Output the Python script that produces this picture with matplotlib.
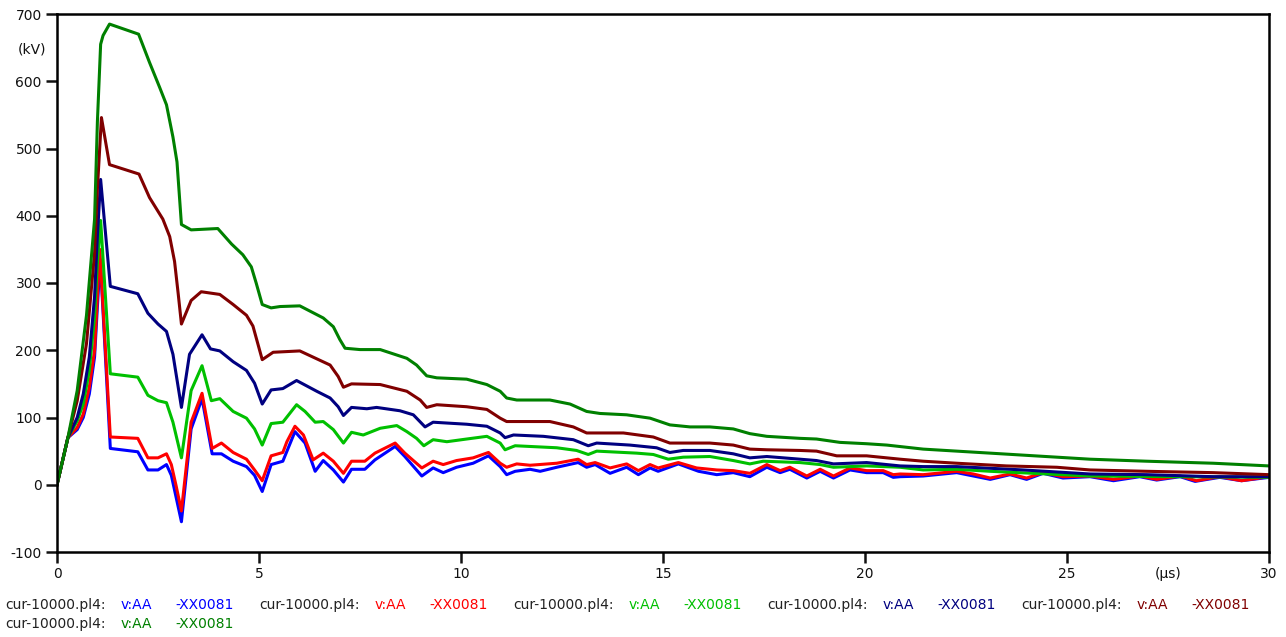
import matplotlib
matplotlib.use("Agg")
import matplotlib.pyplot as plt

plt.rcParams['font.family'] = ['DejaVu Sans']

# ---- series data: time (us) and voltage (kV) ----
blue_t = [0, 0.27, 0.5, 0.65, 0.8, 0.93, 1.0, 1.07, 1.32, 2.0, 2.25, 2.5, 2.71, 2.83, 3.08, 3.32, 3.59, 3.84,
          4.07, 4.36, 4.69, 4.89, 5.08, 5.3, 5.59, 5.89, 6.14, 6.39, 6.59, 6.84, 7.09, 7.29, 7.62, 7.87, 8.37,
          8.61, 9.03, 9.31, 9.56, 9.89, 10.3, 10.68, 10.97, 11.13, 11.34, 11.71, 11.96, 12.37, 12.9, 13.11,
          13.32, 13.69, 14.1, 14.39, 14.68, 14.88, 15.38, 15.88, 16.33, 16.74, 17.15, 17.57, 17.9, 18.14,
          18.56, 18.89, 19.22, 19.63, 20.04, 20.45, 20.7, 20.87, 21.44, 22.27, 23.1, 23.59, 24.0, 24.41, 24.9,
          25.57, 26.15, 26.8, 27.22, 27.8, 28.17, 28.78, 29.32, 30]
blue_v = [0, 70, 82, 100, 135, 190, 265, 335, 54, 49, 22, 22, 30, 14, -55, 83, 128, 46,
          46, 35, 27, 14, -10, 30, 35, 79, 62, 20, 36, 22, 4, 23, 23, 37, 57,
          42, 13, 25, 18, 26, 32, 43, 27, 15, 20, 23, 20, 26, 33, 26,
          30, 17, 26, 15, 25, 20, 31, 20, 15, 18, 12, 26, 18, 23,
          10, 20, 10, 22, 18, 18, 11, 12, 13, 18, 8, 15, 8, 17, 10,
          12, 6, 12, 7, 12, 5, 11, 6, 11]

red_t = [0, 0.27, 0.5, 0.65, 0.8, 0.93, 1.0, 1.06, 1.32, 2.0, 2.25, 2.5, 2.71, 2.83, 2.95, 3.08, 3.32, 3.59,
         3.84, 4.07, 4.36, 4.69, 4.89, 5.08, 5.3, 5.59, 5.69, 5.89, 6.1, 6.34, 6.59, 6.84, 7.09, 7.29, 7.62,
         7.87, 8.37, 8.61, 9.03, 9.31, 9.56, 9.89, 10.3, 10.68, 10.97, 11.13, 11.38, 11.71, 12.37, 12.9,
         13.11, 13.32, 13.69, 14.1, 14.39, 14.68, 14.88, 15.38, 15.83, 16.33, 16.74, 17.15, 17.57, 17.9,
         18.14, 18.56, 18.89, 19.22, 19.63, 20.04, 20.45, 20.7, 20.87, 21.44, 22.27, 22.68, 23.1, 23.59,
         24.0, 24.41, 24.9, 25.57, 26.15, 26.8, 27.22, 27.8, 28.2, 28.78, 29.32, 30]
red_v = [0, 70, 85, 105, 145, 200, 280, 350, 71, 69, 40, 40, 46, 30, -2, -39, 93, 136,
         54, 62, 48, 38, 22, 6, 43, 48, 64, 87, 74, 37, 47, 35, 17, 35, 35,
         47, 62, 47, 25, 35, 30, 36, 40, 48, 32, 26, 31, 29, 32, 38,
         30, 33, 25, 31, 21, 30, 25, 33, 25, 22, 21, 17, 30, 21,
         26, 13, 23, 13, 25, 21, 21, 15, 16, 15, 20, 16, 10, 16,
         10, 18, 12, 13, 8, 13, 8, 13, 6, 12, 6, 12]

lgreen_t = [0, 0.27, 0.5, 0.65, 0.8, 0.93, 1.0, 1.08, 1.32, 2.0, 2.25, 2.5, 2.71, 2.87, 3.08, 3.32, 3.59, 3.82,
            4.03, 4.36, 4.69, 4.89, 5.08, 5.3, 5.59, 5.93, 6.14, 6.39, 6.59, 6.84, 7.09, 7.29, 7.58, 8.0,
            8.41, 8.66, 8.9, 9.08, 9.31, 9.65, 10.14, 10.64, 10.97, 11.09, 11.34, 12.37, 12.86, 13.15, 13.36,
            14.35, 14.76, 15.13, 15.5, 16.16, 16.74, 17.15, 17.48, 18.39, 18.89, 19.22, 20.04, 20.87, 21.44,
            22.27, 23.1, 25.57, 30]
lgreen_v = [0, 70, 95, 120, 170, 250, 330, 393, 165, 160, 133, 125, 122, 93, 40, 140, 177, 125,
            128, 109, 99, 83, 59, 91, 93, 119, 109, 93, 94, 82, 62, 78, 74, 84,
            88, 79, 69, 58, 67, 64, 68, 72, 62, 52, 58, 55, 51, 45, 50,
            47, 45, 38, 41, 42, 36, 31, 35, 33, 30, 26, 28, 26, 22,
            23, 20, 13, 11]

navy_t = [0, 0.27, 0.5, 0.65, 0.8, 0.93, 1.0, 1.08, 1.32, 2.0, 2.25, 2.5, 2.71, 2.87, 3.08, 3.28, 3.59, 3.8,
          4.03, 4.36, 4.69, 4.89, 5.08, 5.3, 5.59, 5.93, 6.43, 6.76, 6.96, 7.09, 7.29, 7.67, 7.91, 8.49,
          8.82, 9.11, 9.31, 10.14, 10.64, 10.97, 11.09, 11.3, 12.04, 12.78, 13.15, 13.36, 14.18, 14.84,
          15.17, 15.5, 16.16, 16.74, 17.15, 17.57, 18.39, 18.8, 19.22, 20.04, 20.87, 21.44, 22.27, 23.92,
          25.57, 26.97, 28.62, 30]
navy_v = [0, 70, 100, 135, 190, 280, 370, 454, 295, 284, 255, 239, 228, 194, 115, 194, 223, 202,
          199, 183, 170, 151, 120, 141, 143, 155, 139, 129, 116, 103, 115, 113, 115, 110,
          104, 86, 93, 90, 87, 77, 70, 74, 72, 67, 58, 62, 59, 55,
          48, 51, 51, 46, 40, 42, 38, 36, 31, 33, 28, 27, 27, 22,
          16, 15, 12, 12]

maroon_t = [0, 0.27, 0.5, 0.73, 0.93, 1.0, 1.10, 1.30, 2.03, 2.29, 2.62, 2.79, 2.91, 3.0, 3.08, 3.32, 3.57,
            4.03, 4.36, 4.69, 4.85, 5.08, 5.35, 6.01, 6.76, 6.96, 7.09, 7.29, 8.0, 8.66, 8.99, 9.15, 9.4,
            10.14, 10.64, 10.97, 11.13, 12.2, 12.78, 13.11, 14.02, 14.76, 15.17, 16.16, 16.74, 17.15, 17.57,
            18.39, 18.8, 19.3, 20.04, 20.87, 21.44, 22.27, 23.5, 24.75, 25.57, 26.97, 28.62, 30]
maroon_v = [0, 70, 125, 210, 345, 440, 546, 476, 462, 427, 395, 369, 332, 284, 239, 274, 287,
            283, 268, 252, 236, 186, 197, 199, 178, 161, 145, 150, 149, 139, 126, 115, 119,
            116, 112, 99, 94, 94, 86, 77, 77, 71, 62, 62, 59, 53, 52,
            51, 50, 43, 43, 38, 35, 32, 28, 26, 22, 20, 18, 15]

dgreen_t = [0, 0.27, 0.5, 0.73, 0.93, 1.0, 1.08, 1.14, 1.30, 2.02, 2.29, 2.54, 2.71, 2.87, 2.97, 3.08, 3.32,
            3.98, 4.32, 4.6, 4.81, 4.93, 5.08, 5.3, 5.52, 6.01, 6.59, 6.84, 7.0, 7.13, 7.5, 8.0, 8.66, 8.9,
            9.15, 9.4, 10.14, 10.64, 10.97, 11.13, 11.38, 12.2, 12.7, 13.11, 13.44, 14.1, 14.68, 15.17,
            15.67, 16.16, 16.74, 17.15, 17.57, 18.39, 18.8, 19.38, 20.04, 20.54, 21.44, 23.1, 24.75, 25.57,
            26.97, 28.62, 30]
dgreen_v = [0, 70, 140, 252, 395, 540, 655, 668, 685, 670, 628, 591, 565, 517, 480, 387, 379,
            381, 358, 342, 324, 300, 268, 263, 265, 266, 248, 235, 216, 203, 201, 201, 188, 178,
            162, 159, 157, 149, 139, 129, 126, 126, 120, 109, 106, 104, 99, 89,
            86, 86, 83, 76, 72, 69, 68, 63, 61, 59, 53, 47, 41, 38,
            35, 32, 28]

series = [
    (blue_t, blue_v, "#0000FF"),
    (red_t, red_v, "#FF0000"),
    (lgreen_t, lgreen_v, "#00C000"),
    (navy_t, navy_v, "#000080"),
    (maroon_t, maroon_v, "#800000"),
    (dgreen_t, dgreen_v, "#008000"),
]

file_label = "cur-10000.pl4:"
node_label = "v:AA"
branch_label = "-XX0081"

x_ticks = [0, 5, 10, 15, 20, 25, 30]
y_ticks = [-100, 0, 100, 200, 300, 400, 500, 600, 700]

W, H = 1286, 637
fig = plt.figure(figsize=(W / 100, H / 100), dpi=100)
ax = fig.add_axes([57 / W, 1 - 552 / H, (1269 - 57) / W, (552 - 14) / H])

for t, v, c in series:
    ax.plot(t, v, color=c, lw=2.2, solid_joinstyle='round')

ax.set_xlim(0, 30)
ax.set_ylim(-100, 700)
ax.set_xticks(x_ticks)
ax.set_yticks(y_ticks)
ax.set_xticklabels([str(x) for x in x_ticks])
ax.set_yticklabels([str(y) for y in y_ticks])
ax.tick_params(axis='both', direction='out', length=8, width=1.8, labelsize=10,
               colors='#111111', pad=3)
for s in ax.spines.values():
    s.set_linewidth(1.8)
    s.set_color('#000000')

# unit labels, placed in line with the tick labels
ax.annotate("(µs)", xy=(27.5, 0), xycoords=('data', 'axes fraction'),
            xytext=(0, -11), textcoords='offset points', ha='center', va='top',
            fontsize=10, color='#111111')
ax.annotate("(kV)", xy=(0, 647), xycoords=('axes fraction', 'data'),
            xytext=(-8, 0), textcoords='offset points', ha='right', va='center',
            fontsize=10, color='#111111')

# legend rows drawn as text
def legend_entry(x0, y, color):
    fig.text(x0 / W, 1 - y / H, file_label, fontsize=10, color='#222222', va='center', ha='left')
    fig.text((x0 + 116) / W, 1 - y / H, node_label, fontsize=10, color=color, va='center', ha='left')
    fig.text((x0 + 170) / W, 1 - y / H, branch_label, fontsize=10, color=color, va='center', ha='left')

for i, (_, _, c) in enumerate(series):
    if i < 5:
        legend_entry(5 + 254 * i, 605, c)
    else:
        legend_entry(5, 624, c)

fig.savefig("out.png", dpi=100)
